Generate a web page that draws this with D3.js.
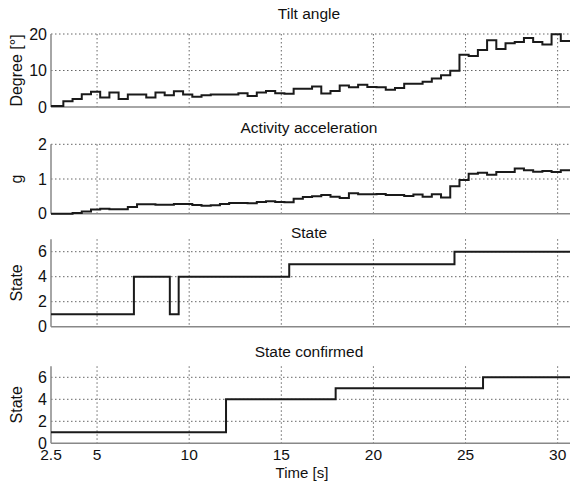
<!DOCTYPE html>
<html>
<head>
<meta charset="utf-8">
<script src="https://cdn.jsdelivr.net/npm/d3@7"></script>
<style>
  body { margin: 0; background: #fff; }
  text { font-family: "Liberation Sans", Arial, sans-serif; fill: #111; }
</style>
</head>
<body>
<div id="container"></div>
<script>
var width = 570,
    height = 483;

// sample start times (s) shared by tilt and acceleration
var stepTimes = [2.5, 3.17, 3.67, 4.17, 4.67, 5.17, 5.67, 6.17, 6.67, 7.17, 7.67, 8.17, 8.67, 9.17,
    9.67, 10.17, 10.67, 11.17, 11.67, 12.17, 12.67, 13.17, 13.67, 14.17, 14.67, 15.17, 15.67, 16.17,
    16.67, 17.17, 17.67, 18.17, 18.67, 19.17, 19.67, 20.17, 20.67, 21.17, 21.67, 22.17, 22.67, 23.17,
    23.67, 24.17, 24.67, 25.17, 25.67, 26.17, 26.67, 27.17, 27.67, 28.17, 28.67, 29.17, 29.67, 30.17];

var tiltValues = [0.3, 1.6, 2.2, 3.5, 4.2, 2.6, 4.0, 2.2, 3.4, 3.4, 2.6, 4.0, 3.2, 4.3,
    3.4, 2.8, 3.2, 3.4, 3.4, 3.4, 3.8, 3.0, 4.0, 4.4, 3.8, 3.6, 5.0, 5.0,
    5.6, 3.7, 4.4, 5.9, 5.4, 6.1, 5.5, 5.4, 4.7, 5.2, 6.4, 6.4, 6.9, 7.8,
    8.7, 9.9, 14.3, 14.0, 15.6, 18.3, 15.9, 17.5, 17.8, 18.9, 17.8, 17.1, 19.9, 18.1];

var accValues = [0.0, 0.0, 0.02, 0.06, 0.12, 0.14, 0.13, 0.13, 0.19, 0.27, 0.27, 0.26, 0.26, 0.28,
    0.28, 0.25, 0.23, 0.24, 0.28, 0.31, 0.31, 0.30, 0.34, 0.36, 0.34, 0.33, 0.43, 0.48,
    0.50, 0.54, 0.49, 0.45, 0.59, 0.56, 0.56, 0.57, 0.54, 0.54, 0.51, 0.55, 0.49, 0.56,
    0.47, 0.79, 0.97, 1.15, 1.18, 1.12, 1.20, 1.20, 1.30, 1.25, 1.21, 1.23, 1.20, 1.25];

var stateTimes = [2.5, 7.0, 8.95, 9.43, 15.43, 24.4];
var stateValues = [1, 4, 1, 4, 5, 6];

var confTimes = [2.5, 12.0, 17.95, 25.95];
var confValues = [1, 4, 5, 6];

var endTime = 30.67;
var xTicks = [2.5, 5, 10, 15, 20, 25, 30];

var svg = d3.select("#container")
    .append("svg")
    .attr("width", width)
    .attr("height", height);

var x = d3.scaleLinear().domain([2.5, endTime]).range([51, 570]);

function toSteps(times, values) {
    var pts = times.map(function (t, i) { return [t, values[i]]; });
    pts.push([endTime, values[values.length - 1]]);
    return pts;
}

function drawPanel(p) {
    var y = d3.scaleLinear().domain(p.domain).range([p.bottom, p.top]);
    var g = svg.append("g");

    // dotted grid
    g.selectAll(".vgrid")
        .data(xTicks.slice(1))
        .enter().append("line")
        .attr("x1", function (d) { return x(d); })
        .attr("x2", function (d) { return x(d); })
        .attr("y1", p.top)
        .attr("y2", p.bottom)
        .attr("stroke", "#666")
        .attr("stroke-width", 1)
        .attr("stroke-dasharray", "1.5,2.5");

    g.selectAll(".hgrid")
        .data(p.ticks.filter(function (d) { return d > 0; }))
        .enter().append("line")
        .attr("x1", x(2.5))
        .attr("x2", width)
        .attr("y1", function (d) { return y(d); })
        .attr("y2", function (d) { return y(d); })
        .attr("stroke", "#666")
        .attr("stroke-width", 1)
        .attr("stroke-dasharray", "1.5,2.5");

    // axes lines
    g.append("line")
        .attr("x1", x(2.5)).attr("x2", x(2.5))
        .attr("y1", p.top).attr("y2", p.bottom)
        .attr("stroke", "#888").attr("stroke-width", 1.5);
    g.append("line")
        .attr("x1", x(2.5)).attr("x2", width)
        .attr("y1", p.bottom).attr("y2", p.bottom)
        .attr("stroke", "#888").attr("stroke-width", 1.5);

    // y tick labels
    g.selectAll(".ylab")
        .data(p.ticks)
        .enter().append("text")
        .attr("x", x(2.5) - 4)
        .attr("y", function (d) { return y(d); })
        .attr("dy", "0.36em")
        .attr("text-anchor", "end")
        .attr("font-size", "16px")
        .text(function (d) { return d; });

    // title
    g.append("text")
        .attr("x", 309)
        .attr("y", p.titleY)
        .attr("text-anchor", "middle")
        .attr("font-size", "15.5px")
        .text(p.title);

    // y label
    g.append("text")
        .attr("transform", "translate(16," + ((p.top + p.bottom) / 2) + ") rotate(-90)")
        .attr("text-anchor", "middle")
        .attr("dy", "0.35em")
        .attr("font-size", "16px")
        .text(p.ylabel);

    var line = d3.line()
        .curve(d3.curveStepAfter)
        .x(function (d) { return x(d[0]); })
        .y(function (d) { return y(d[1]); });

    g.append("path")
        .datum(p.data)
        .attr("d", line)
        .attr("fill", "none")
        .attr("stroke", "#1a1a1a")
        .attr("stroke-width", 2);

    return g;
}

drawPanel({ title: "Tilt angle", ylabel: "Degree [°]", top: 34, bottom: 107, titleY: 19,
    domain: [0, 20], ticks: [0, 10, 20], data: toSteps(stepTimes, tiltValues) });

drawPanel({ title: "Activity acceleration", ylabel: "g", top: 144.3, bottom: 213.7, titleY: 133,
    domain: [0, 2], ticks: [0, 1, 2], data: toSteps(stepTimes, accValues) });

drawPanel({ title: "State", ylabel: "State", top: 239.2, bottom: 326.7, titleY: 238,
    domain: [0, 7], ticks: [0, 2, 4, 6], data: toSteps(stateTimes, stateValues) });

var last = drawPanel({ title: "State confirmed", ylabel: "State", top: 366.3, bottom: 443.3, titleY: 357,
    domain: [0, 7], ticks: [0, 2, 4, 6], data: toSteps(confTimes, confValues) });

// x tick labels on the bottom panel
last.selectAll(".xlab")
    .data(xTicks)
    .enter().append("text")
    .attr("x", function (d) { return x(d); })
    .attr("y", 454)
    .attr("dy", "0.36em")
    .attr("text-anchor", "middle")
    .attr("font-size", "15.5px")
    .text(function (d) { return d; });

last.append("text")
    .attr("x", 302)
    .attr("y", 473)
    .attr("dy", "0.36em")
    .attr("text-anchor", "middle")
    .attr("font-size", "15px")
    .text("Time [s]");
</script>
</body>
</html>
